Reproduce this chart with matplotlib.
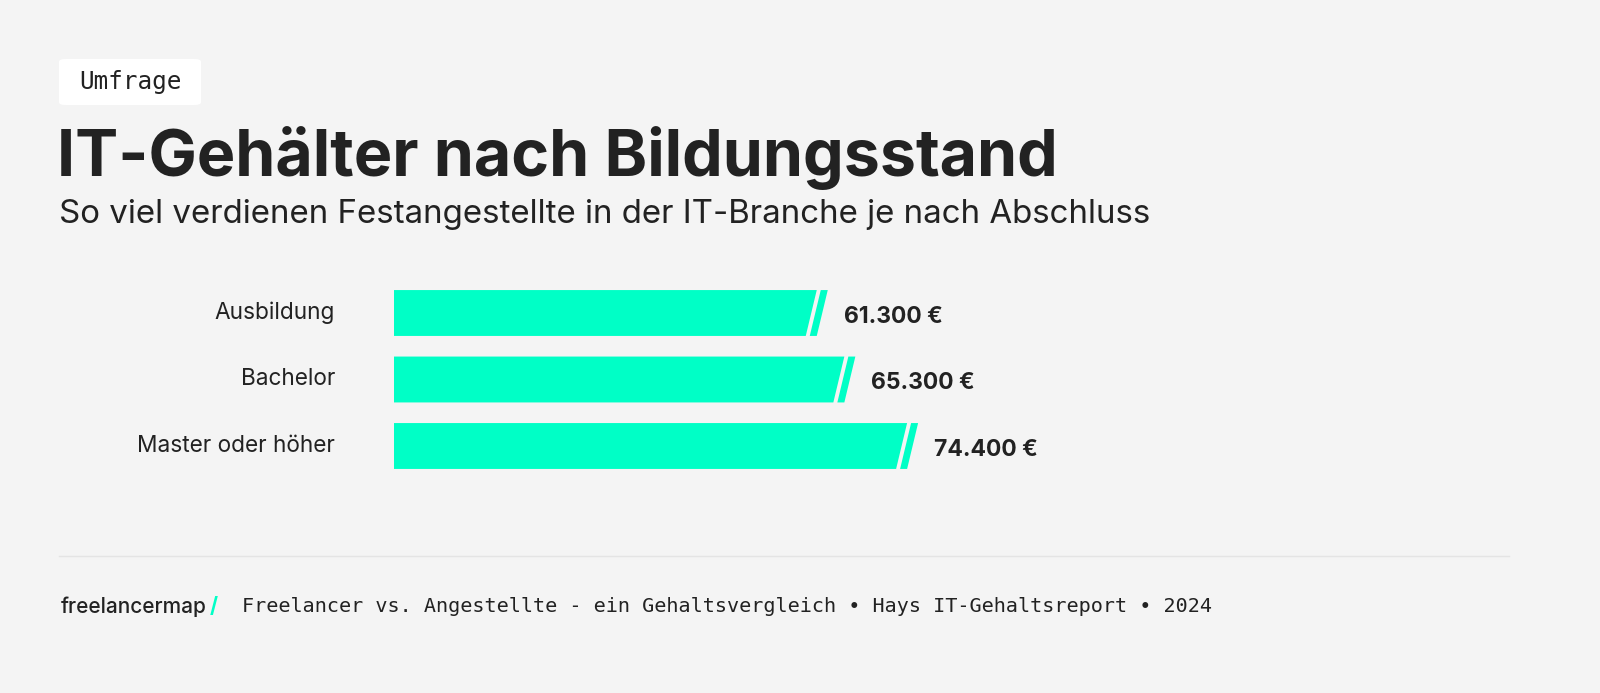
import matplotlib
matplotlib.use("Agg")
import matplotlib.pyplot as plt
from matplotlib.patches import Polygon, FancyBboxPatch

categories = ["Ausbildung", "Bachelor", "Master oder höher"]
values = [61300, 65300, 74400]
labels = ["61.300 €", "65.300 €", "74.400 €"]

BG = "#f4f4f4"
BAR = "#00ffc6"
TXT = "#222222"
W, H = 1600, 693
fig = plt.figure(figsize=(16, 6.93), dpi=100, facecolor=BG)

x0, x1, yt, yb = 394, 1394, 280, 480
ax = fig.add_axes([x0 / W, 1 - yb / H, (x1 - x0) / W, (yb - yt) / H])
ax.set_facecolor(BG)
xmax = 145000
ax.set_xlim(0, xmax)
top = -33 / 66.5
ax.set_ylim(top + 200 / 66.5, top)
ax.axis("off")
px = xmax / (x1 - x0)
h = 0.69
for i, (c, v, l) in enumerate(zip(categories, values, labels)):
    t, b = i - h / 2, i + h / 2
    s = 11 * px
    ax.add_patch(Polygon([(0, t), (v, t), (v - s, b), (0, b)], closed=True, color=BAR, lw=0))
    g1, g2 = v + 4 * px, v + 11 * px
    ax.add_patch(Polygon([(g1, t), (g2, t), (g2 - s, b), (g1 - s, b)], closed=True, color=BAR, lw=0))
    ax.text(v + 27 * px, i + 0.06, l, ha="left", va="center", fontsize=16.5, fontweight="bold",
            family="Inter", color=TXT)
    ax.text(-59 * px, i, c, ha="right", va="center", fontsize=16.3, family="Inter", color=TXT)

fig.patches.append(FancyBboxPatch((59 / W, 1 - 105 / H), 142 / W, 46 / H,
                                  boxstyle="round,pad=0,rounding_size=0.004",
                                  transform=fig.transFigure, fc="white", ec="none"))
fig.text(130 / W, 1 - 82 / H, "Umfrage", ha="center", va="center", fontsize=17.5,
         family="DejaVu Sans Mono", color=TXT)
fig.text(57 / W, 1 - 158 / H, "IT-Gehälter nach Bildungsstand", ha="left", va="center",
         fontsize=46.5, fontweight="bold", family="Inter", color=TXT)
fig.text(59 / W, 1 - 214 / H, "So viel verdienen Festangestellte in der IT-Branche je nach Abschluss",
         ha="left", va="center", fontsize=23.8, family="Inter", color=TXT)

fig.add_artist(plt.Line2D([59 / W, 1509 / W], [1 - 556 / H] * 2, color="#e4e4e4", lw=1))

fig.text(61 / W, 1 - 607 / H, "freelancermap", ha="left", va="center", fontsize=15,
         family="Inter", fontweight="medium", color=TXT)
fig.text(210 / W, 1 - 607 / H, "/", ha="left", va="center", fontsize=15,
         family="Inter", fontweight="bold", color=BAR)
fig.text(242 / W, 1 - 607 / H,
         "Freelancer vs. Angestellte - ein Gehaltsvergleich • Hays IT-Gehaltsreport • 2024",
         ha="left", va="center", fontsize=14.5, family="DejaVu Sans Mono", color=TXT)

fig.savefig("out.png", dpi=100, facecolor=BG)
